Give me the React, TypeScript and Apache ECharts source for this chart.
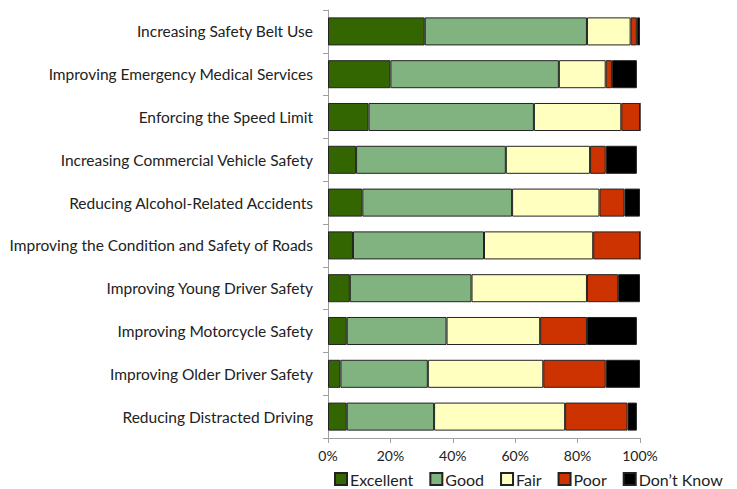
import React, { useEffect, useRef } from "react";
import * as echarts from "echarts";

const categories = [
  "Increasing Safety Belt Use",
  "Improving Emergency Medical Services",
  "Enforcing the Speed Limit",
  "Increasing Commercial Vehicle Safety",
  "Reducing Alcohol-Related Accidents",
  "Improving the Condition and Safety of Roads",
  "Improving Young Driver Safety",
  "Improving Motorcycle Safety",
  "Improving Older Driver Safety",
  "Reducing Distracted Driving",
];
const excellent = [31, 20, 13, 9, 11, 8, 7, 6, 4, 6];
const good = [52, 54, 53, 48, 48, 42, 39, 32, 28, 28];
const fair = [14, 15, 28, 27, 28, 35, 37, 30, 37, 42];
const poor = [2, 2, 6, 5, 8, 15, 10, 15, 20, 20];
const dontKnow = [1, 8, 0, 10, 5, 0, 7, 16, 11, 3];
const seriesNames = ["Excellent", "Good", "Fair", "Poor", "Don\u2019t Know"];
const colors = ["#336600", "#80B380", "#FFFFC0", "#CC3300", "#000000"];
const xTicks = [0, 20, 40, 60, 80, 100];

export default function App() {
  const ref = useRef<HTMLDivElement>(null);
  useEffect(() => {
    if (!ref.current) return;
    const chart = echarts.init(ref.current, undefined, { renderer: "svg" });
    const data = [excellent, good, fair, poor, dontKnow];
    const font = "Lato";
    chart.setOption({
      animation: false,
      textStyle: { fontFamily: font },
      grid: { left: 328, right: 97, top: 10, bottom: 51, containLabel: false },
      legend: {
        left: 329,
        top: 466,
        itemWidth: 12,
        itemHeight: 12,
        itemGap: 16,
        icon: "rect",
        textStyle: { fontSize: 16, color: "#222", fontFamily: font, padding: [0, 0, 0, -2] },
        data: seriesNames,
      },
      xAxis: {
        type: "value",
        min: 0,
        max: 100,
        interval: 20,
        axisLine: { show: true, lineStyle: { color: "#a0a0a0" } },
        axisTick: { show: true, length: 5, lineStyle: { color: "#a0a0a0" } },
        splitLine: { show: false },
        axisLabel: {
          fontSize: 14,
          color: "#222",
          margin: 10,
          formatter: (v: number) => (xTicks.includes(v) ? v + "%" : ""),
        },
      },
      yAxis: {
        type: "category",
        inverse: true,
        data: categories,
        axisLine: { show: true, lineStyle: { color: "#a0a0a0" } },
        axisTick: { show: true, length: 5, lineStyle: { color: "#a0a0a0" } },
        axisLabel: { fontSize: 15.5, color: "#222", margin: 15 },
      },
      series: seriesNames.map((name, i) => ({
        name,
        type: "bar",
        stack: "total",
        barCategoryGap: "34.5%",
        data: data[i],
        itemStyle: {
          color: colors[i],
          borderColor: "#222",
          borderWidth: 1,
        },
      })),
    });
    return () => chart.dispose();
  }, []);
  return <div ref={ref} style={{ width: 737, height: 489, position: "absolute", left: 0, top: 0 }} />;
}
